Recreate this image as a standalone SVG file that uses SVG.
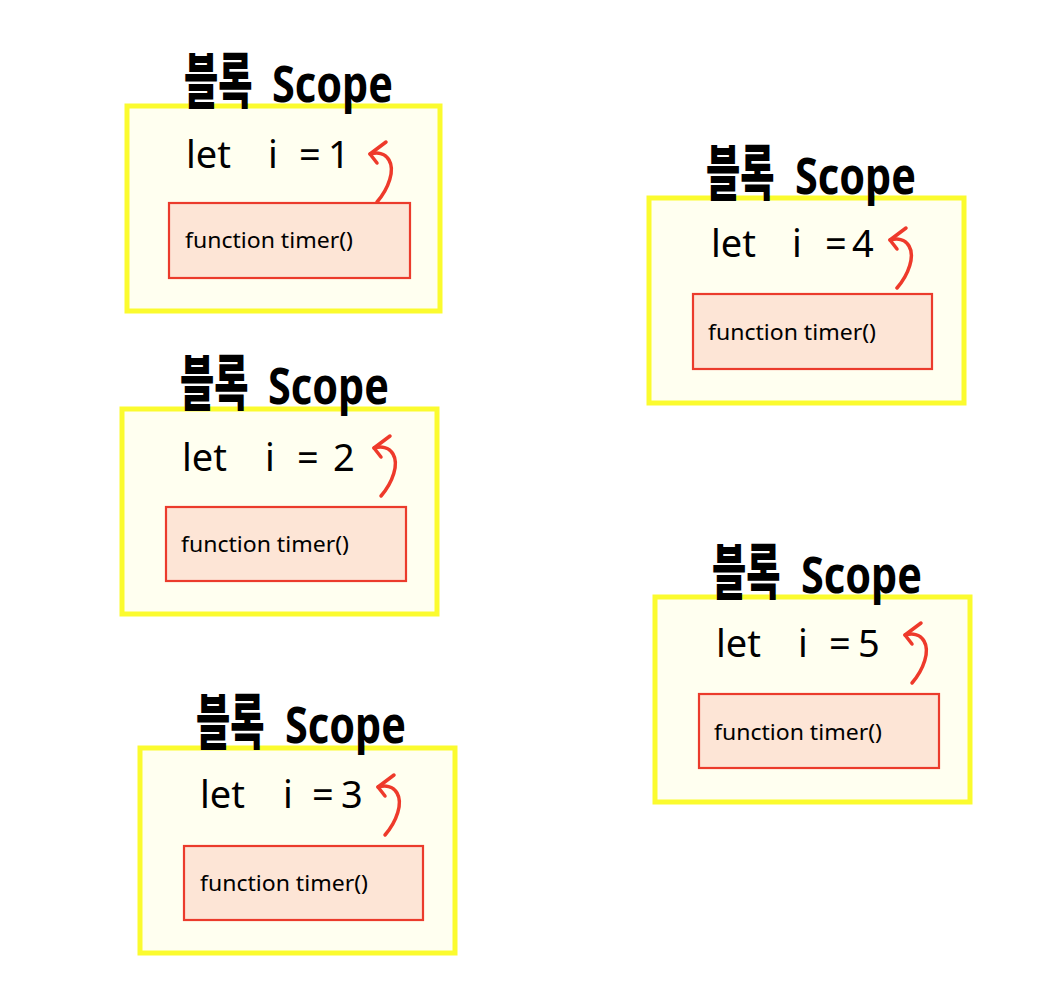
<svg xmlns="http://www.w3.org/2000/svg" xmlns:xlink="http://www.w3.org/1999/xlink" width="1042" height="1000" viewBox="0 0 1042 1000">
<style>
.outer{fill:#fffff0;stroke:#fbfb2e;stroke-width:5}
.inner{fill:#fde5d6;stroke:#eb3b2c;stroke-width:2.2}
.ko{font-family:"Noto Sans CJK KR",sans-serif;font-weight:900;font-size:60px;fill:#000}
.sc{font-family:"Noto Sans","Noto Sans CJK KR",sans-serif;font-weight:700;font-size:50px;fill:#000}
.let{font-family:"Noto Sans",sans-serif;font-weight:400;font-size:38px;fill:#000}
.fn{font-family:"Noto Sans",sans-serif;font-weight:400;font-size:22px;fill:#000}
.arr{fill:none;stroke:#ee3a2b;stroke-width:3.5;stroke-linecap:round;stroke-linejoin:round}
</style>
<defs>
<g id="arrow">
<path class="arr" d="M0,0 C12,-14 18,-32 12,-42 C8,-49 0,-50 -7,-48"/>
<path class="arr" d="M9,-60 L-7,-48 L0,-39"/>
</g>
</defs>
<rect width="1042" height="1000" fill="#ffffff"/>
<g id="block1" transform="translate(127,106)">
<rect class="outer" x="0" y="0" width="313" height="205"/>
<text class="ko" transform="translate(57,-3) scale(0.62,1)">블록</text>
<text class="sc" x="145" y="-4" textLength="121" lengthAdjust="spacingAndGlyphs">Scope</text>
<text class="let" y="62"><tspan x="59">let</tspan><tspan x="141">i</tspan><tspan x="172">=</tspan><tspan x="201">1</tspan></text>
<rect class="inner" x="42" y="97" width="241" height="75"/>
<text class="fn" x="58" y="142" textLength="168" lengthAdjust="spacingAndGlyphs">function timer()</text>
</g>
<g id="block2" transform="translate(122,409)">
<rect class="outer" x="0" y="0" width="315" height="205"/>
<text class="ko" transform="translate(58,-4) scale(0.62,1)">블록</text>
<text class="sc" x="146" y="-5" textLength="121" lengthAdjust="spacingAndGlyphs">Scope</text>
<text class="let" y="62"><tspan x="60">let</tspan><tspan x="143">i</tspan><tspan x="175">=</tspan><tspan x="211">2</tspan></text>
<rect class="inner" x="44" y="98" width="240" height="74"/>
<text class="fn" x="59" y="143" textLength="168" lengthAdjust="spacingAndGlyphs">function timer()</text>
</g>
<g id="block3" transform="translate(140,748)">
<rect class="outer" x="0" y="0" width="315" height="205"/>
<text class="ko" transform="translate(56,-4) scale(0.62,1)">블록</text>
<text class="sc" x="145" y="-5" textLength="121" lengthAdjust="spacingAndGlyphs">Scope</text>
<text class="let" y="60"><tspan x="60">let</tspan><tspan x="143">i</tspan><tspan x="172">=</tspan><tspan x="201">3</tspan></text>
<rect class="inner" x="44" y="98" width="239" height="74"/>
<text class="fn" x="60" y="143" textLength="168" lengthAdjust="spacingAndGlyphs">function timer()</text>
</g>
<g id="block4" transform="translate(649,198)">
<rect class="outer" x="0" y="0" width="315" height="205"/>
<text class="ko" transform="translate(57,-3) scale(0.62,1)">블록</text>
<text class="sc" x="146" y="-4" textLength="121" lengthAdjust="spacingAndGlyphs">Scope</text>
<text class="let" y="59"><tspan x="62">let</tspan><tspan x="143">i</tspan><tspan x="176">=</tspan><tspan x="203">4</tspan></text>
<rect class="inner" x="44" y="96" width="239" height="75"/>
<text class="fn" x="59" y="142" textLength="168" lengthAdjust="spacingAndGlyphs">function timer()</text>
</g>
<g id="block5" transform="translate(655,597)">
<rect class="outer" x="0" y="0" width="315" height="205"/>
<text class="ko" transform="translate(57,-3) scale(0.62,1)">블록</text>
<text class="sc" x="146" y="-4" textLength="121" lengthAdjust="spacingAndGlyphs">Scope</text>
<text class="let" y="60"><tspan x="61">let</tspan><tspan x="143">i</tspan><tspan x="174">=</tspan><tspan x="203">5</tspan></text>
<rect class="inner" x="44" y="97" width="240" height="74"/>
<text class="fn" x="59" y="143" textLength="168" lengthAdjust="spacingAndGlyphs">function timer()</text>
</g>
<g id="connectors">
<use xlink:href="#arrow" href="#arrow" x="377" y="202"/>
<use xlink:href="#arrow" href="#arrow" x="381" y="496"/>
<use xlink:href="#arrow" href="#arrow" x="385" y="835"/>
<use xlink:href="#arrow" href="#arrow" x="897" y="288"/>
<use xlink:href="#arrow" href="#arrow" x="912" y="683"/>
</g>
</svg>
